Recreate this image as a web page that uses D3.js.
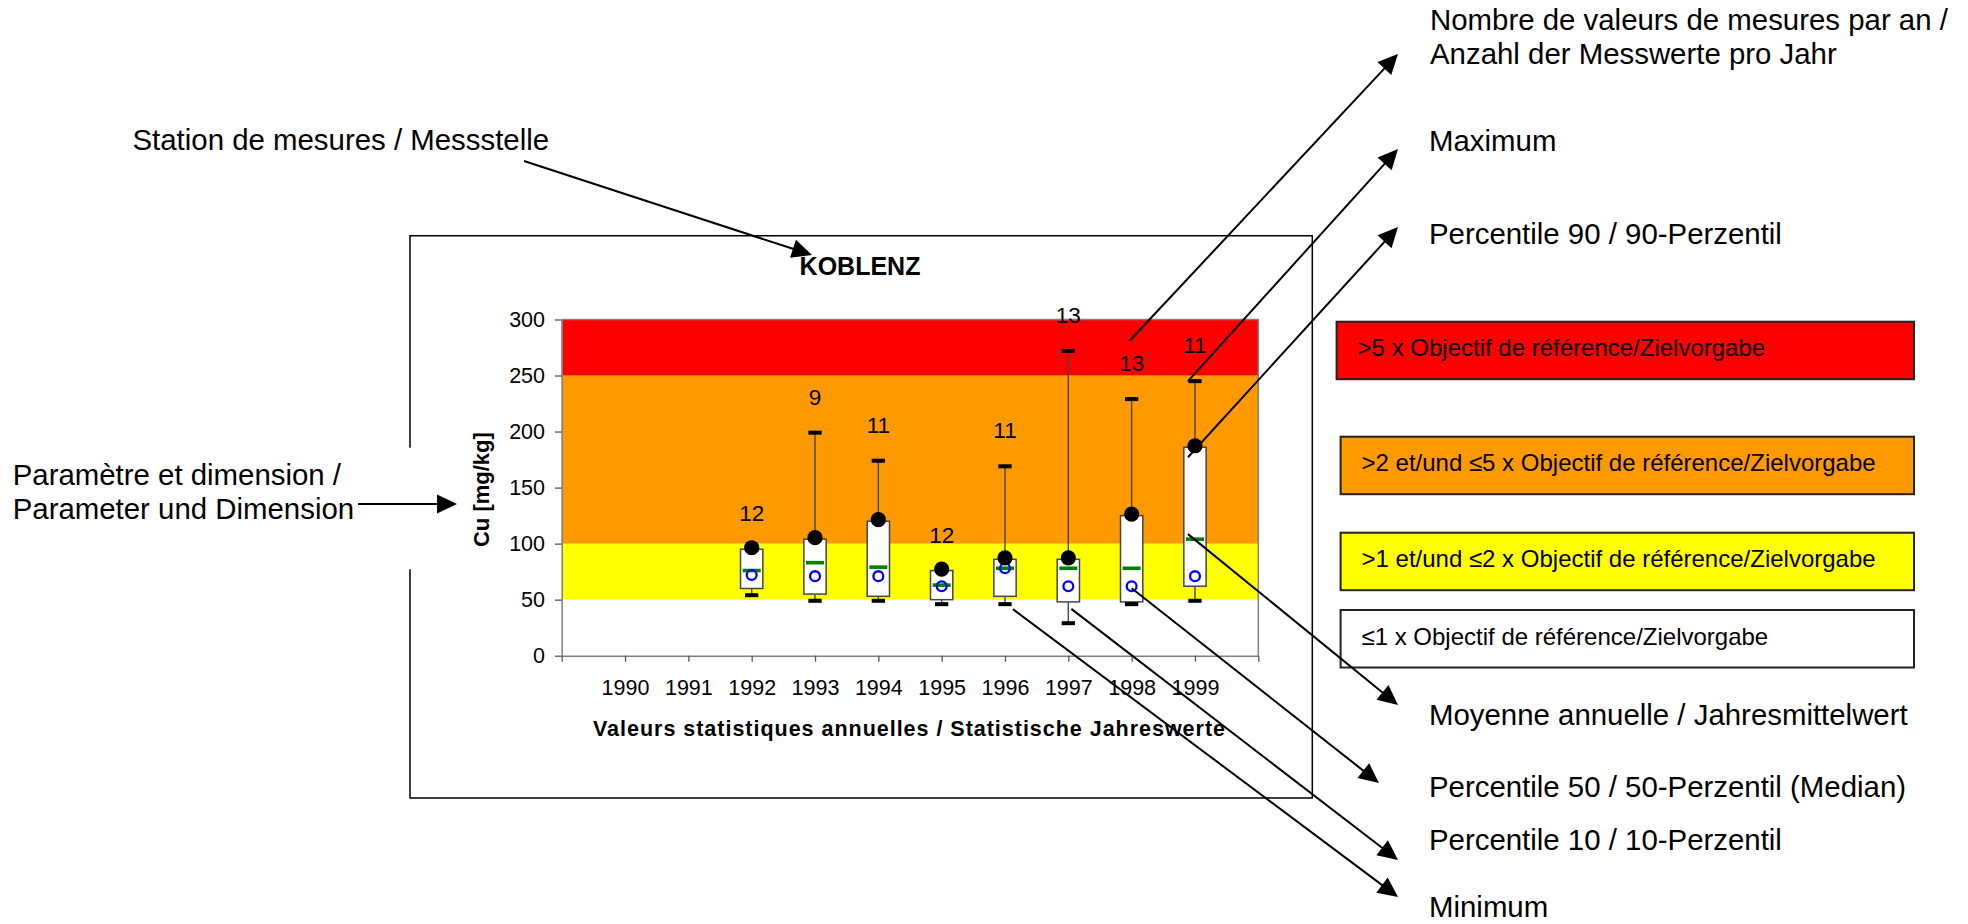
<!DOCTYPE html>
<html>
<head>
<meta charset="utf-8">
<script src="https://cdn.jsdelivr.net/npm/d3@7"></script>
<style>
  html, body { margin: 0; padding: 0; background: #ffffff; }
  svg { display: block; }
  text { font-family: "Liberation Sans", Arial, Helvetica, sans-serif; fill: #000; }
</style>
</head>
<body>
<script>
// ---- Annual statistics, Cu [mg/kg], station KOBLENZ ----
const years      = [1992, 1993, 1994, 1995, 1996, 1997, 1998, 1999];
const counts     = [12, 9, 11, 12, 11, 13, 13, 11];
const maxVals    = [95, 199, 174, 76, 169, 272, 229, 245];
const p90Vals    = [95, 104, 120, 76, 86, 86, 125, 186];
const meanVals   = [76, 83, 79, 63, 78, 78, 78, 104];
const medianVals = [72, 71, 71, 62, 78, 62, 62, 71];
const p10Vals    = [60, 55, 53, 50, 53, 48, 48, 62];
const minVals    = [54, 49, 49, 46, 46, 29, 46, 49];

// x axis runs one step beyond the labelled years on each side
const axisYears  = [1989, 1990, 1991, 1992, 1993, 1994, 1995, 1996, 1997, 1998, 1999, 2000];
const yearLabels = ["1990", "1991", "1992", "1993", "1994", "1995", "1996", "1997", "1998", "1999"];
const yTicks     = [0, 50, 100, 150, 200, 250, 300];

// quality classes (multiples of the reference objective of 50 mg/kg)
const classLimits = [0, 50, 100, 250, 300];
const classColors = ["#ffffff", "#ffff00", "#ff9900", "#ff0000"];
const classLabels = [
  "\u22641 x Objectif de r\u00e9f\u00e9rence/Zielvorgabe",
  ">1 et/und \u22642 x Objectif de r\u00e9f\u00e9rence/Zielvorgabe",
  ">2 et/und \u22645 x Objectif de r\u00e9f\u00e9rence/Zielvorgabe",
  ">5 x Objectif de r\u00e9f\u00e9rence/Zielvorgabe"
];

const stationName = "KOBLENZ";
const yTitle = "Cu [mg/kg]";
const xTitle = "Valeurs statistiques annuelles / Statistische Jahreswerte";

// ---- layout ----
const W = 1968, H = 924;
const plot = { left: 561.7, right: 1258.3, top: 319.5, bottom: 655.7 };
const frame = { left: 410, top: 235.7, right: 1312.3, bottom: 798, gapTop: 447.7, gapBottom: 569.3 };

const svg = d3.select("body").append("svg")
  .attr("width", W).attr("height", H)
  .attr("viewBox", `0 0 ${W} ${H}`);

const x = d3.scaleLinear().domain([1989, 2000]).range([plot.left, plot.right]);
const y = d3.scaleLinear().domain([0, 300]).range([plot.bottom, plot.top]);

const rows = years.map((yr, i) => ({
  year: yr, n: counts[i], max: maxVals[i], p90: p90Vals[i],
  mean: meanVals[i], median: medianVals[i], p10: p10Vals[i], min: minVals[i]
}));

// ---- chart frame (open on the left where the parameter arrow enters) ----
const frameG = svg.append("g").attr("stroke", "#000").attr("stroke-width", 1.5).attr("fill", "none");
frameG.append("path").attr("d",
  `M${frame.left},${frame.gapTop} V${frame.top} H${frame.right} V${frame.bottom} H${frame.left} V${frame.gapBottom}`);

// ---- quality-class bands ----
const bands = d3.range(classColors.length).map(i => ({ lo: classLimits[i], hi: classLimits[i + 1], color: classColors[i] }));
svg.append("g").selectAll("rect").data(bands).join("rect")
  .attr("x", plot.left)
  .attr("width", plot.right - plot.left)
  .attr("y", d => y(d.hi))
  .attr("height", d => y(d.lo) - y(d.hi))
  .attr("fill", d => d.color);

// plot border (top / right)
svg.append("path")
  .attr("d", `M${plot.left},${y(300)} H${plot.right} V${y(0)}`)
  .attr("fill", "none").attr("stroke", "#808080").attr("stroke-width", 1.5);

// ---- axes ----
const yAxis = d3.axisLeft(y).tickValues(yTicks).tickSize(6.7).tickSizeOuter(0).tickPadding(10);
const yG = svg.append("g").attr("transform", `translate(${plot.left},0)`).call(yAxis);

const xAxis = d3.axisBottom(x).tickValues(axisYears).tickSize(6).tickSizeOuter(0).tickPadding(18)
  .tickFormat(d => yearLabels.includes(String(d)) ? String(d) : "");
const xG = svg.append("g").attr("transform", `translate(0,${plot.bottom})`).call(xAxis);

[yG, xG].forEach(g => {
  g.select(".domain").attr("stroke", "#808080").attr("stroke-width", 1.5);
  g.selectAll(".tick line").attr("stroke", "#555").attr("stroke-width", 1.3);
  g.selectAll(".tick text").attr("font-size", 21.5).attr("font-family", "Liberation Sans, Arial, sans-serif").attr("fill", "#000");
});

// ---- titles ----
svg.append("text")
  .attr("x", 860).attr("y", 275)
  .attr("text-anchor", "middle").attr("font-size", 25).attr("font-weight", "bold")
  .text(stationName);

svg.append("text")
  .attr("transform", `translate(489,${(y(0) + y(300)) / 2 + 2}) rotate(-90)`)
  .attr("text-anchor", "middle").attr("font-size", 22).attr("font-weight", "bold")
  .text(yTitle);

svg.append("text")
  .attr("x", 909).attr("y", 736)
  .attr("text-anchor", "middle").attr("font-size", 21.5).attr("font-weight", "bold")
  .attr("textLength", 632).attr("lengthAdjust", "spacing")
  .text(xTitle);

// ---- box plots ----
const boxW = 22.3, capW = 13.3, capH = 4, meanW = 18;
const boxes = svg.append("g");
const whiskerStroke = "#454545";

// whiskers
boxes.selectAll("line.upper").data(rows).join("line").attr("class", "upper")
  .attr("x1", d => x(d.year)).attr("x2", d => x(d.year))
  .attr("y1", d => y(d.max)).attr("y2", d => y(d.p90))
  .attr("stroke", whiskerStroke).attr("stroke-width", 1.4);
boxes.selectAll("line.lower").data(rows).join("line").attr("class", "lower")
  .attr("x1", d => x(d.year)).attr("x2", d => x(d.year))
  .attr("y1", d => y(d.p10)).attr("y2", d => y(d.min))
  .attr("stroke", whiskerStroke).attr("stroke-width", 1.4);

// P10..P90 box
boxes.selectAll("rect.box").data(rows).join("rect").attr("class", "box")
  .attr("x", d => x(d.year) - boxW / 2).attr("width", boxW)
  .attr("y", d => y(d.p90)).attr("height", d => y(d.p10) - y(d.p90))
  .attr("fill", "#fff").attr("stroke", "#454545").attr("stroke-width", 1.5);

// maximum / minimum caps
["max", "min"].forEach(k => {
  boxes.selectAll(`rect.cap-${k}`).data(rows).join("rect").attr("class", `cap-${k}`)
    .attr("x", d => x(d.year) - capW / 2).attr("width", capW)
    .attr("y", d => y(d[k]) - capH / 2).attr("height", capH)
    .attr("fill", "#000");
});

// annual mean (green dash)
boxes.selectAll("rect.mean").data(rows).join("rect").attr("class", "mean")
  .attr("x", d => x(d.year) - meanW / 2).attr("width", meanW)
  .attr("y", d => y(d.mean) - 1.8).attr("height", 3.6)
  .attr("fill", "#008000");

// median (blue ring)
boxes.selectAll("circle.median").data(rows).join("circle").attr("class", "median")
  .attr("cx", d => x(d.year)).attr("cy", d => y(d.median)).attr("r", 4.9)
  .attr("fill", "none").attr("stroke", "#0000ff").attr("stroke-width", 2.3);

// 90th percentile (black dot)
boxes.selectAll("circle.p90").data(rows).join("circle").attr("class", "p90")
  .attr("cx", d => x(d.year)).attr("cy", d => y(d.p90) - 1.5).attr("r", 7.6)
  .attr("fill", "#000");

// number of measurements above each maximum
boxes.selectAll("text.count").data(rows).join("text").attr("class", "count")
  .attr("x", d => x(d.year)).attr("y", d => y(d.max) - 28)
  .attr("text-anchor", "middle").attr("font-size", 22.5)
  .text(d => d.n);

// ---- class legend ----
const legendBoxes = [
  { top: 321.7, left: 1336.6, textX: 1357.6 },
  { top: 436.7, left: 1340.6, textX: 1361.5 },
  { top: 532.7, left: 1340.6, textX: 1361.5 },
  { top: 610.0, left: 1340.6, textX: 1361.5 }
];
const legendRight = 1914, legendH = 57.5;
const legendData = [3, 2, 1, 0].map((ci, j) => ({ color: classColors[ci], label: classLabels[ci], ...legendBoxes[j] }));
const lg = svg.append("g");
lg.selectAll("rect").data(legendData).join("rect")
  .attr("x", d => d.left).attr("y", d => d.top)
  .attr("width", d => legendRight - d.left).attr("height", legendH)
  .attr("fill", d => d.color).attr("stroke", "#222").attr("stroke-width", 2);
lg.selectAll("text").data(legendData).join("text")
  .attr("x", d => d.textX).attr("y", d => d.top + 34.5)
  .attr("font-size", 24)
  .text(d => d.label);

// ---- explanatory annotations with arrows ----
const annFont = 29.4;
const notes = [
  { lines: ["Station de mesures / Messstelle"], x: 132.5, y: 150 },
  { lines: ["Param\u00e8tre et dimension /", "Parameter und Dimension"], x: 12.7, y: 485 },
  { lines: ["Nombre de valeurs de mesures par an /", "Anzahl der Messwerte pro Jahr"], x: 1430, y: 29.5 },
  { lines: ["Maximum"], x: 1429, y: 150.7 },
  { lines: ["Percentile 90 / 90-Perzentil"], x: 1429, y: 244 },
  { lines: ["Moyenne annuelle / Jahresmittelwert"], x: 1429, y: 725 },
  { lines: ["Percentile 50 / 50-Perzentil (Median)"], x: 1429, y: 797 },
  { lines: ["Percentile 10 / 10-Perzentil"], x: 1429, y: 850 },
  { lines: ["Minimum"], x: 1429, y: 916.7 }
];
const noteG = svg.append("g");
notes.forEach(n => {
  const t = noteG.append("text").attr("x", n.x).attr("y", n.y).attr("font-size", annFont);
  n.lines.forEach((s, i) => t.append("tspan").attr("x", n.x).attr("dy", i === 0 ? 0 : 34).text(s));
});

// arrow anchors: chart elements are referenced through the scales
const row = yr => rows.find(r => r.year === yr);
const arrows = [
  { from: [524, 161], to: [812, 255] },
  { from: [358, 504], to: [457, 504] },
  { from: [x(1998) - 2, y(281)], to: [1398, 54] },
  { from: [x(1999) - 7, y(row(1999).max)], to: [1398, 149] },
  { from: [x(1999) - 7, y(row(1999).p90) + 10], to: [1398, 227] },
  { from: [x(1999) - 7, y(row(1999).mean) - 5], to: [1398, 705] },
  { from: [x(1998), y(row(1998).median) + 2], to: [1379, 783] },
  { from: [x(1997) + 3, y(row(1997).p10) + 7], to: [1398, 860] },
  { from: [x(1996) + 8, y(row(1996).min) + 5], to: [1398, 897] }
];
const arrowG = svg.append("g");
const headLen = 20, headHalf = 9.5;
arrows.forEach(a => {
  const [x1, y1] = a.from, [x2, y2] = a.to;
  const L = Math.hypot(x2 - x1, y2 - y1);
  const ux = (x2 - x1) / L, uy = (y2 - y1) / L;
  const px = -uy, py = ux;
  arrowG.append("line")
    .attr("x1", x1).attr("y1", y1)
    .attr("x2", x2 - ux * (headLen - 4)).attr("y2", y2 - uy * (headLen - 4))
    .attr("stroke", "#000").attr("stroke-width", 2);
  const bx = x2 - ux * headLen, by = y2 - uy * headLen;
  arrowG.append("path")
    .attr("d", `M${x2},${y2} L${bx + px * headHalf},${by + py * headHalf} L${bx - px * headHalf},${by - py * headHalf} Z`)
    .attr("fill", "#000");
});
</script>
</body>
</html>
